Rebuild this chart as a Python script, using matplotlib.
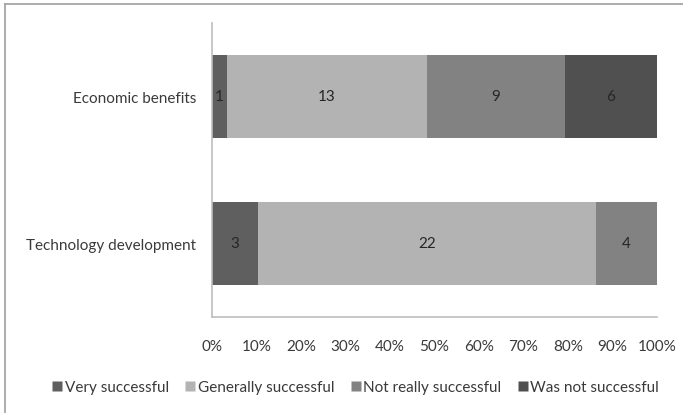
import matplotlib
matplotlib.use("Agg")
import matplotlib.pyplot as plt
from matplotlib.lines import Line2D
import numpy as np

categories = ["Technology development", "Economic benefits"]
series_names = ["Very successful", "Generally successful",
                "Not really successful", "Was not successful"]
very_successful = [3, 1]
generally_successful = [22, 13]
not_really_successful = [4, 9]
was_not_successful = [0, 6]
tick_labels = ["0%", "10%", "20%", "30%", "40%", "50%",
               "60%", "70%", "80%", "90%", "100%"]

colors = ["#5f5f5f", "#b3b3b3", "#828282", "#505050"]
font = ["Lato", "DejaVu Sans"]
text_color = "#3a3a3a"
fs = 11

series = [very_successful, generally_successful,
          not_really_successful, was_not_successful]
counts = np.array(series, dtype=float)
totals = counts.sum(axis=0)
shares = counts / totals

fig = plt.figure(figsize=(6.83, 4.14), dpi=100)
ax = fig.add_axes([212 / 683, 96 / 414, 445 / 683, 294 / 414])

y = np.arange(len(categories))
left = np.zeros(len(categories))
for name, share, cnt, col in zip(series_names, shares, counts, colors):
    ax.barh(y, share, left=left, height=0.565, color=col, label=name,
            edgecolor="none")
    for yi, s, c, l in zip(y, share, cnt, left):
        if c > 0:
            ax.text(l + s / 2, yi, f"{int(c)}", ha="center", va="center",
                    fontsize=fs, family=font, color="#262626")
    left += share

ax.set_xlim(0, 1)
ax.set_ylim(-0.5, 1.5)
ax.set_xticks(np.linspace(0, 1, 11))
ax.set_xticklabels(tick_labels, family=font, fontsize=fs, color=text_color)
ax.set_yticks(y)
ax.set_yticklabels(categories, family=font, fontsize=fs, color=text_color)
ax.tick_params(axis="both", length=0)
ax.tick_params(axis="x", pad=16)
ax.tick_params(axis="y", pad=11.5)
for side in ["top", "right"]:
    ax.spines[side].set_visible(False)
for side in ["left", "bottom"]:
    ax.spines[side].set_color("#bdbdbd")
    ax.spines[side].set_linewidth(1.2)

handles = [Line2D([], [], marker="s", linestyle="none", markersize=6.5,
                  markerfacecolor=c, markeredgecolor="none") for c in colors]
fig.legend(handles, series_names, loc="center", ncol=4,
           bbox_to_anchor=(355 / 683, 1 - 388 / 414), frameon=False,
           prop={"family": font, "size": fs}, labelcolor=text_color,
           handletextpad=0.1, columnspacing=1.0, handlelength=0.8)

# chart border (top and left edges)
fig.add_artist(Line2D([5 / 683, 1], [1 - 5 / 414, 1 - 5 / 414],
                      transform=fig.transFigure, color="#a6a6a6", linewidth=1.3))
fig.add_artist(Line2D([5 / 683, 5 / 683], [0, 1 - 5 / 414],
                      transform=fig.transFigure, color="#a6a6a6", linewidth=1.3))

fig.savefig("out.png", dpi=100)
